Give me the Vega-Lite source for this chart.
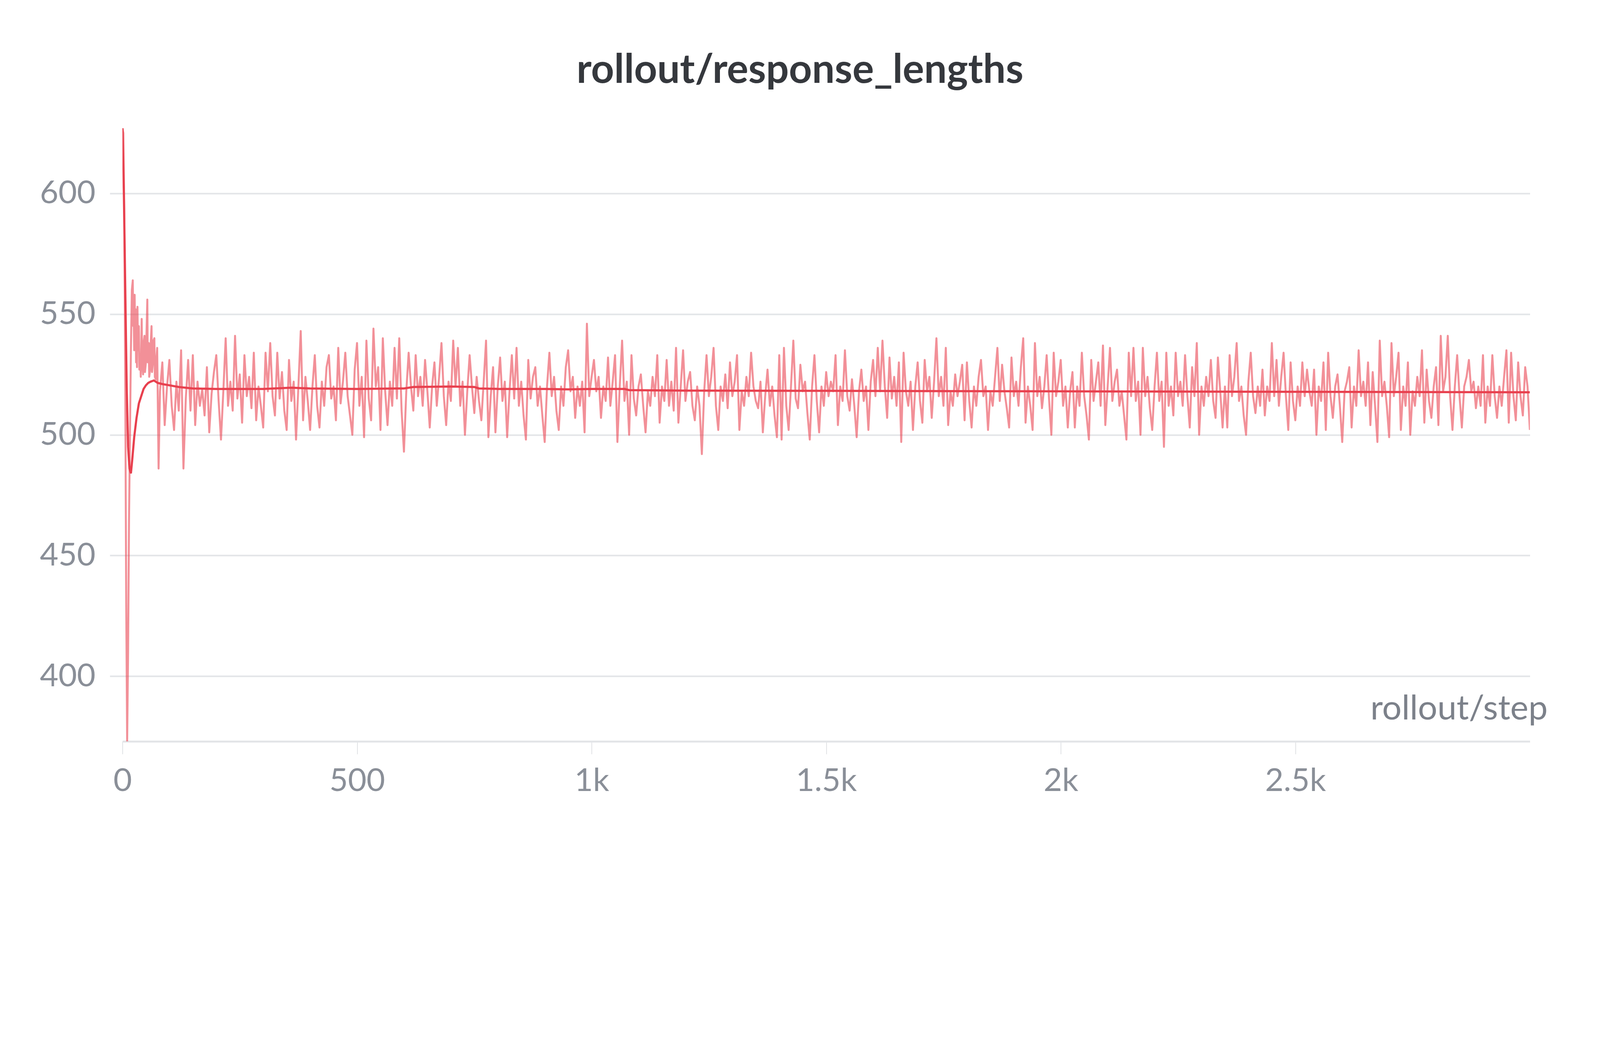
{
  "$schema": "https://vega.github.io/schema/vega-lite/v6.json",
  "autosize": "none",
  "width": 3603,
  "height": 1569,
  "padding": {"left": 313.5, "top": 328, "right": 179.5, "bottom": 255},
  "background": "#ffffff",
  "config": {"view": {"stroke": null}, "font": "Lato"},
  "title": {
    "text": "rollout/response_lengths",
    "font": "Lato",
    "fontSize": 103,
    "fontWeight": "bold",
    "color": "#35383d",
    "anchor": "middle",
    "baseline": "alphabetic",
    "dx": -67,
    "offset": 13
  },
  "datasets": {
    "raw": [
      {"step":0,"value":627},{"step":2,"value":625},{"step":4,"value":590},{"step":6,"value":520},{"step":8,"value":430},{"step":10,"value":373},{"step":12,"value":410},{"step":14,"value":465},{"step":16,"value":500},{"step":18,"value":535},{"step":20,"value":560},{"step":22,"value":564},{"step":23,"value":545},{"step":24,"value":548},{"step":25,"value":535},{"step":26,"value":558},{"step":27,"value":540},{"step":28,"value":552},{"step":29,"value":530},{"step":30,"value":540},{"step":31,"value":528},{"step":32,"value":553},{"step":33,"value":535},{"step":35,"value":545},{"step":36,"value":527},{"step":38,"value":532},{"step":39,"value":524},{"step":41,"value":548},{"step":42,"value":530},{"step":44,"value":525},{"step":45,"value":538},{"step":47,"value":541},{"step":48,"value":526},{"step":50,"value":530},{"step":51,"value":540},{"step":53,"value":556},{"step":54,"value":530},{"step":56,"value":538},{"step":57,"value":524},{"step":59,"value":527},{"step":60,"value":537},{"step":62,"value":545},{"step":63,"value":526},{"step":65,"value":530},{"step":66,"value":539},{"step":68,"value":540},{"step":69,"value":524},{"step":71,"value":523},{"step":72,"value":531},{"step":74,"value":536},{"step":77,"value":486},{"step":80,"value":518},
      {"step":85,"value":530},{"step":90,"value":504},{"step":95,"value":520},{"step":100,"value":531},{"step":105,"value":512},{"step":110,"value":502},{"step":115,"value":522},{"step":120,"value":510},{"step":125,"value":535},{"step":130,"value":486},{"step":135,"value":515},{"step":140,"value":531},{"step":145,"value":510},{"step":150,"value":533},{"step":155,"value":504},{"step":160,"value":522},{"step":165,"value":512},{"step":170,"value":519},{"step":175,"value":508},{"step":180,"value":528},{"step":185,"value":501},{"step":190,"value":517},{"step":195,"value":526},{"step":200,"value":533},{"step":205,"value":514},{"step":210,"value":498},{"step":215,"value":518},{"step":220,"value":540},{"step":225,"value":512},{"step":230,"value":522},{"step":235,"value":510},{"step":240,"value":541},{"step":245,"value":515},{"step":250,"value":525},{"step":255,"value":505},{"step":260,"value":533},{"step":265,"value":516},{"step":270,"value":524},{"step":275,"value":511},{"step":280,"value":534},{"step":285,"value":506},{"step":290,"value":520},{"step":295,"value":512},{"step":300,"value":503},{"step":305,"value":534},{"step":310,"value":518},{"step":315,"value":538},{"step":320,"value":516},{"step":325,"value":508},{"step":330,"value":534},{"step":335,"value":515},{"step":340,"value":526},{"step":345,"value":510},{"step":350,"value":502},{"step":355,"value":531},{"step":360,"value":514},{"step":365,"value":522},{"step":370,"value":498},{"step":375,"value":520},{"step":380,"value":543},{"step":385,"value":506},{"step":390,"value":524},{"step":395,"value":514},{"step":400,"value":502},{"step":405,"value":520},{"step":410,"value":533},{"step":415,"value":512},{"step":420,"value":503},{"step":425,"value":522},{"step":430,"value":512},{"step":435,"value":528},{"step":440,"value":533},{"step":445,"value":515},{"step":450,"value":520},{"step":455,"value":506},{"step":460,"value":536},{"step":465,"value":513},{"step":470,"value":522},{"step":475,"value":534},{"step":480,"value":516},{"step":485,"value":508},{"step":490,"value":500},{"step":495,"value":527},{"step":500,"value":538},
      {"step":505,"value":512},{"step":510,"value":524},{"step":515,"value":499},{"step":520,"value":539},{"step":525,"value":515},{"step":530,"value":506},{"step":535,"value":544},{"step":540,"value":520},{"step":545,"value":528},{"step":550,"value":502},{"step":555,"value":540},{"step":560,"value":518},{"step":565,"value":504},{"step":570,"value":522},{"step":575,"value":512},{"step":580,"value":536},{"step":585,"value":515},{"step":590,"value":540},{"step":595,"value":510},{"step":600,"value":493},{"step":605,"value":518},{"step":610,"value":534},{"step":615,"value":520},{"step":620,"value":510},{"step":625,"value":533},{"step":630,"value":516},{"step":635,"value":524},{"step":640,"value":512},{"step":645,"value":531},{"step":650,"value":518},{"step":655,"value":503},{"step":660,"value":520},{"step":665,"value":530},{"step":670,"value":512},{"step":675,"value":524},{"step":680,"value":538},{"step":685,"value":516},{"step":690,"value":504},{"step":695,"value":522},{"step":700,"value":514},{"step":705,"value":539},{"step":710,"value":520},{"step":715,"value":536},{"step":720,"value":512},{"step":725,"value":522},{"step":730,"value":500},{"step":735,"value":518},{"step":740,"value":533},{"step":745,"value":520},{"step":750,"value":509},{"step":755,"value":524},{"step":760,"value":514},{"step":765,"value":506},{"step":770,"value":522},{"step":775,"value":539},{"step":780,"value":499},{"step":785,"value":516},{"step":790,"value":528},{"step":795,"value":501},{"step":800,"value":520},{"step":805,"value":532},{"step":810,"value":514},{"step":815,"value":522},{"step":820,"value":499},{"step":825,"value":518},{"step":830,"value":533},{"step":835,"value":515},{"step":840,"value":536},{"step":845,"value":512},{"step":850,"value":522},{"step":855,"value":508},{"step":860,"value":498},{"step":865,"value":531},{"step":870,"value":515},{"step":875,"value":524},{"step":880,"value":528},{"step":885,"value":512},{"step":890,"value":520},{"step":895,"value":508},{"step":900,"value":497},{"step":905,"value":520},{"step":910,"value":534},{"step":915,"value":516},{"step":920,"value":524},{"step":925,"value":510},{"step":930,"value":502},{"step":935,"value":520},{"step":940,"value":512},{"step":945,"value":528},{"step":950,"value":535},{"step":955,"value":518},{"step":960,"value":524},{"step":965,"value":507},{"step":970,"value":520},{"step":975,"value":512},{"step":980,"value":522},{"step":985,"value":501},{"step":990,"value":546},{"step":995,"value":516},{"step":1000,"value":524},{"step":1005,"value":531},
      {"step":1010,"value":518},{"step":1015,"value":524},{"step":1020,"value":507},{"step":1025,"value":520},{"step":1030,"value":514},{"step":1035,"value":532},{"step":1040,"value":512},{"step":1045,"value":522},{"step":1050,"value":533},{"step":1055,"value":497},{"step":1060,"value":520},{"step":1065,"value":539},{"step":1070,"value":514},{"step":1075,"value":522},{"step":1080,"value":500},{"step":1085,"value":533},{"step":1090,"value":515},{"step":1095,"value":508},{"step":1100,"value":520},{"step":1105,"value":525},{"step":1110,"value":512},{"step":1115,"value":501},{"step":1120,"value":518},{"step":1125,"value":512},{"step":1130,"value":524},{"step":1135,"value":516},{"step":1140,"value":533},{"step":1145,"value":505},{"step":1150,"value":520},{"step":1155,"value":514},{"step":1160,"value":531},{"step":1165,"value":512},{"step":1170,"value":522},{"step":1175,"value":510},{"step":1180,"value":536},{"step":1185,"value":505},{"step":1190,"value":520},{"step":1195,"value":535},{"step":1200,"value":514},{"step":1205,"value":522},{"step":1210,"value":526},{"step":1215,"value":512},{"step":1220,"value":506},{"step":1225,"value":520},{"step":1230,"value":512},{"step":1235,"value":492},{"step":1240,"value":518},{"step":1245,"value":533},{"step":1250,"value":516},{"step":1255,"value":524},{"step":1260,"value":536},{"step":1265,"value":512},{"step":1270,"value":502},{"step":1275,"value":520},{"step":1280,"value":514},{"step":1285,"value":525},{"step":1290,"value":511},{"step":1295,"value":530},{"step":1300,"value":516},{"step":1305,"value":522},{"step":1310,"value":533},{"step":1315,"value":502},{"step":1320,"value":518},{"step":1325,"value":512},{"step":1330,"value":524},{"step":1335,"value":516},{"step":1340,"value":534},{"step":1345,"value":520},{"step":1350,"value":514},{"step":1355,"value":511},{"step":1360,"value":522},{"step":1365,"value":501},{"step":1370,"value":516},{"step":1375,"value":527},{"step":1380,"value":512},{"step":1385,"value":520},{"step":1390,"value":508},{"step":1395,"value":499},{"step":1400,"value":533},{"step":1405,"value":498},{"step":1410,"value":536},{"step":1415,"value":512},{"step":1420,"value":502},{"step":1425,"value":520},{"step":1430,"value":539},{"step":1435,"value":515},{"step":1440,"value":511},{"step":1445,"value":529},{"step":1450,"value":518},{"step":1455,"value":522},{"step":1460,"value":509},{"step":1465,"value":498},{"step":1470,"value":520},{"step":1475,"value":533},{"step":1480,"value":514},{"step":1485,"value":501},{"step":1490,"value":520},{"step":1495,"value":512},{"step":1500,"value":526},{"step":1505,"value":516},{"step":1510,"value":522},{"step":1515,"value":518},{"step":1520,"value":533},
      {"step":1525,"value":504},{"step":1530,"value":520},{"step":1535,"value":514},{"step":1540,"value":535},{"step":1545,"value":516},{"step":1550,"value":510},{"step":1555,"value":523},{"step":1560,"value":512},{"step":1565,"value":499},{"step":1570,"value":518},{"step":1575,"value":527},{"step":1580,"value":514},{"step":1585,"value":520},{"step":1590,"value":502},{"step":1595,"value":522},{"step":1600,"value":531},{"step":1605,"value":516},{"step":1610,"value":536},{"step":1615,"value":518},{"step":1620,"value":539},{"step":1625,"value":520},{"step":1630,"value":507},{"step":1635,"value":532},{"step":1640,"value":515},{"step":1645,"value":524},{"step":1650,"value":512},{"step":1655,"value":530},{"step":1660,"value":497},{"step":1665,"value":534},{"step":1670,"value":518},{"step":1675,"value":512},{"step":1680,"value":522},{"step":1685,"value":502},{"step":1690,"value":520},{"step":1695,"value":530},{"step":1700,"value":514},{"step":1705,"value":505},{"step":1710,"value":531},{"step":1715,"value":518},{"step":1720,"value":524},{"step":1725,"value":507},{"step":1730,"value":522},{"step":1735,"value":540},{"step":1740,"value":516},{"step":1745,"value":524},{"step":1750,"value":512},{"step":1755,"value":536},{"step":1760,"value":504},{"step":1765,"value":518},{"step":1770,"value":512},{"step":1775,"value":525},{"step":1780,"value":516},{"step":1785,"value":522},{"step":1790,"value":529},{"step":1795,"value":506},{"step":1800,"value":530},{"step":1805,"value":514},{"step":1810,"value":503},{"step":1815,"value":520},{"step":1820,"value":512},{"step":1825,"value":524},{"step":1830,"value":531},{"step":1835,"value":516},{"step":1840,"value":520},{"step":1845,"value":502},{"step":1850,"value":518},{"step":1855,"value":512},{"step":1860,"value":524},{"step":1865,"value":536},{"step":1870,"value":514},{"step":1875,"value":529},{"step":1880,"value":518},{"step":1885,"value":511},{"step":1890,"value":503},{"step":1895,"value":532},{"step":1900,"value":516},{"step":1905,"value":522},{"step":1910,"value":512},{"step":1915,"value":528},{"step":1920,"value":540},{"step":1925,"value":505},{"step":1930,"value":520},{"step":1935,"value":512},{"step":1940,"value":502},{"step":1945,"value":538},{"step":1950,"value":516},{"step":1955,"value":524},{"step":1960,"value":511},{"step":1965,"value":520},{"step":1970,"value":533},{"step":1975,"value":515},{"step":1980,"value":500},{"step":1985,"value":534},{"step":1990,"value":516},{"step":1995,"value":522},{"step":2000,"value":531},{"step":2005,"value":512},{"step":2010,"value":520},{"step":2015,"value":503},{"step":2020,"value":518},
      {"step":2025,"value":526},{"step":2030,"value":503},{"step":2035,"value":520},{"step":2040,"value":512},{"step":2045,"value":534},{"step":2050,"value":516},{"step":2055,"value":508},{"step":2060,"value":498},{"step":2065,"value":531},{"step":2070,"value":514},{"step":2075,"value":522},{"step":2080,"value":530},{"step":2085,"value":512},{"step":2090,"value":537},{"step":2095,"value":504},{"step":2100,"value":520},{"step":2105,"value":536},{"step":2110,"value":514},{"step":2115,"value":522},{"step":2120,"value":527},{"step":2125,"value":512},{"step":2130,"value":518},{"step":2135,"value":508},{"step":2140,"value":498},{"step":2145,"value":534},{"step":2150,"value":516},{"step":2155,"value":536},{"step":2160,"value":514},{"step":2165,"value":522},{"step":2170,"value":500},{"step":2175,"value":536},{"step":2180,"value":516},{"step":2185,"value":524},{"step":2190,"value":511},{"step":2195,"value":502},{"step":2200,"value":520},{"step":2205,"value":534},{"step":2210,"value":514},{"step":2215,"value":522},{"step":2220,"value":495},{"step":2225,"value":534},{"step":2230,"value":512},{"step":2235,"value":520},{"step":2240,"value":508},{"step":2245,"value":534},{"step":2250,"value":516},{"step":2255,"value":522},{"step":2260,"value":512},{"step":2265,"value":533},{"step":2270,"value":516},{"step":2275,"value":503},{"step":2280,"value":528},{"step":2285,"value":516},{"step":2290,"value":538},{"step":2295,"value":500},{"step":2300,"value":520},{"step":2305,"value":512},{"step":2310,"value":524},{"step":2315,"value":516},{"step":2320,"value":531},{"step":2325,"value":514},{"step":2330,"value":507},{"step":2335,"value":532},{"step":2340,"value":518},{"step":2345,"value":503},{"step":2350,"value":520},{"step":2355,"value":503},{"step":2360,"value":533},{"step":2365,"value":516},{"step":2370,"value":524},{"step":2375,"value":538},{"step":2380,"value":514},{"step":2385,"value":520},{"step":2390,"value":508},{"step":2395,"value":500},{"step":2400,"value":522},{"step":2405,"value":534},{"step":2410,"value":516},{"step":2415,"value":509},{"step":2420,"value":520},{"step":2425,"value":512},{"step":2430,"value":527},{"step":2435,"value":508},{"step":2440,"value":520},{"step":2445,"value":514},{"step":2450,"value":538},{"step":2455,"value":516},{"step":2460,"value":531},{"step":2465,"value":512},{"step":2470,"value":524},{"step":2475,"value":534},{"step":2480,"value":516},{"step":2485,"value":502},{"step":2490,"value":530},{"step":2495,"value":514},{"step":2500,"value":506},{"step":2505,"value":520},{"step":2510,"value":512},{"step":2515,"value":530},{"step":2520,"value":516},{"step":2525,"value":527},
      {"step":2530,"value":518},{"step":2535,"value":512},{"step":2540,"value":527},{"step":2545,"value":500},{"step":2550,"value":520},{"step":2555,"value":514},{"step":2560,"value":530},{"step":2565,"value":502},{"step":2570,"value":534},{"step":2575,"value":516},{"step":2580,"value":507},{"step":2585,"value":520},{"step":2590,"value":525},{"step":2595,"value":512},{"step":2600,"value":497},{"step":2605,"value":518},{"step":2610,"value":522},{"step":2615,"value":528},{"step":2620,"value":503},{"step":2625,"value":520},{"step":2630,"value":512},{"step":2635,"value":535},{"step":2640,"value":516},{"step":2645,"value":522},{"step":2650,"value":512},{"step":2655,"value":530},{"step":2660,"value":504},{"step":2665,"value":526},{"step":2670,"value":512},{"step":2675,"value":497},{"step":2680,"value":539},{"step":2685,"value":516},{"step":2690,"value":522},{"step":2695,"value":512},{"step":2700,"value":499},{"step":2705,"value":538},{"step":2710,"value":516},{"step":2715,"value":524},{"step":2720,"value":534},{"step":2725,"value":502},{"step":2730,"value":520},{"step":2735,"value":512},{"step":2740,"value":530},{"step":2745,"value":500},{"step":2750,"value":518},{"step":2755,"value":512},{"step":2760,"value":524},{"step":2765,"value":516},{"step":2770,"value":535},{"step":2775,"value":505},{"step":2780,"value":527},{"step":2785,"value":514},{"step":2790,"value":507},{"step":2795,"value":520},{"step":2800,"value":528},{"step":2805,"value":504},{"step":2810,"value":541},{"step":2815,"value":518},{"step":2820,"value":524},{"step":2825,"value":541},{"step":2830,"value":516},{"step":2835,"value":502},{"step":2840,"value":520},{"step":2845,"value":533},{"step":2850,"value":516},{"step":2855,"value":503},{"step":2860,"value":520},{"step":2865,"value":524},{"step":2870,"value":531},{"step":2875,"value":518},{"step":2880,"value":522},{"step":2885,"value":511},{"step":2890,"value":520},{"step":2895,"value":512},{"step":2900,"value":533},{"step":2905,"value":505},{"step":2910,"value":520},{"step":2915,"value":512},{"step":2920,"value":533},{"step":2925,"value":516},{"step":2930,"value":507},{"step":2935,"value":520},{"step":2940,"value":512},{"step":2945,"value":524},{"step":2950,"value":535},{"step":2955,"value":505},{"step":2960,"value":534},{"step":2965,"value":516},{"step":2970,"value":506},{"step":2975,"value":530},{"step":2980,"value":516},{"step":2985,"value":508},{"step":2990,"value":528},{"step":2995,"value":520},{"step":3000,"value":502}
    ],
    "smooth": [
      {"step":0,"value":627},{"step":3,"value":600},{"step":6,"value":560},{"step":9,"value":520},{"step":12,"value":495},{"step":15,"value":486},{"step":18,"value":484},{"step":21,"value":490},{"step":25,"value":499},{"step":30,"value":507},{"step":35,"value":513},{"step":40,"value":516},{"step":45,"value":519},{"step":50,"value":520.5},{"step":55,"value":521.5},{"step":60,"value":522},{"step":67,"value":522.5},{"step":75,"value":521.5},{"step":85,"value":521},{"step":100,"value":520.5},{"step":120,"value":519.8},{"step":150,"value":519.2},{"step":200,"value":519},{"step":300,"value":519},{"step":360,"value":519.5},{"step":400,"value":519.2},{"step":500,"value":519},{"step":600,"value":519.2},{"step":620,"value":519.8},{"step":700,"value":520},{"step":750,"value":519.8},{"step":760,"value":519.2},{"step":800,"value":519},{"step":900,"value":519},{"step":950,"value":518.8},{"step":1000,"value":519},{"step":1070,"value":519},{"step":1080,"value":518.5},{"step":1200,"value":518.3},{"step":1500,"value":518.2},{"step":2000,"value":518},{"step":2500,"value":517.8},{"step":3000,"value":517.6}
    ]
  },
  "layer": [
    {
      "data": {"name": "raw"},
      "mark": {"type": "line", "color": "#e8404e", "opacity": 0.58, "strokeWidth": 5, "strokeJoin": "round", "clip": true},
      "encoding": {
        "x": {
          "field": "step", "type": "quantitative",
          "scale": {"domain": [0, 3000], "nice": false, "zero": false},
          "axis": {
            "values": [0, 500, 1000, 1500, 2000, 2500],
            "labelExpr": "datum.value >= 1000 ? (datum.value / 1000) + 'k' : '' + datum.value",
            "labelLimit": 1000,
            "grid": false,
            "domainColor": "#e3e5e8", "domainWidth": 5,
            "tickColor": "#d9dbdf", "tickWidth": 1.6, "tickSize": 32.4,
            "labelFont": "Lato", "labelFontSize": 82, "labelColor": "#8a8f98", "labelPadding": 29,
            "labelFlush": false,
            "title": "rollout/step",
            "titleFont": "Lato", "titleFontSize": 88, "titleFontWeight": "normal", "titleColor": "#7c818a",
            "titleLimit": 2000,
            "titleAnchor": "end", "titleAlign": "right", "titleBaseline": "alphabetic",
            "titleX": 3648, "titleY": -57
          }
        },
        "y": {
          "field": "value", "type": "quantitative",
          "scale": {"domain": [373, 627], "nice": false, "zero": false},
          "axis": {
            "values": [400, 450, 500, 550, 600],
            "grid": true, "gridColor": "#e3e5e8", "gridWidth": 4,
            "domain": false,
            "tickColor": "#e3e5e8", "tickWidth": 4, "tickSize": 32.4,
            "labelFont": "Lato", "labelFontSize": 82, "labelColor": "#8a8f98", "labelPadding": 37,
            "labelLimit": 1000,
            "title": null
          }
        }
      }
    },
    {
      "data": {"name": "smooth"},
      "mark": {"type": "line", "color": "#e8404e", "strokeWidth": 5.5, "clip": true},
      "encoding": {
        "x": {"field": "step", "type": "quantitative"},
        "y": {"field": "value", "type": "quantitative"}
      }
    }
  ]
}
